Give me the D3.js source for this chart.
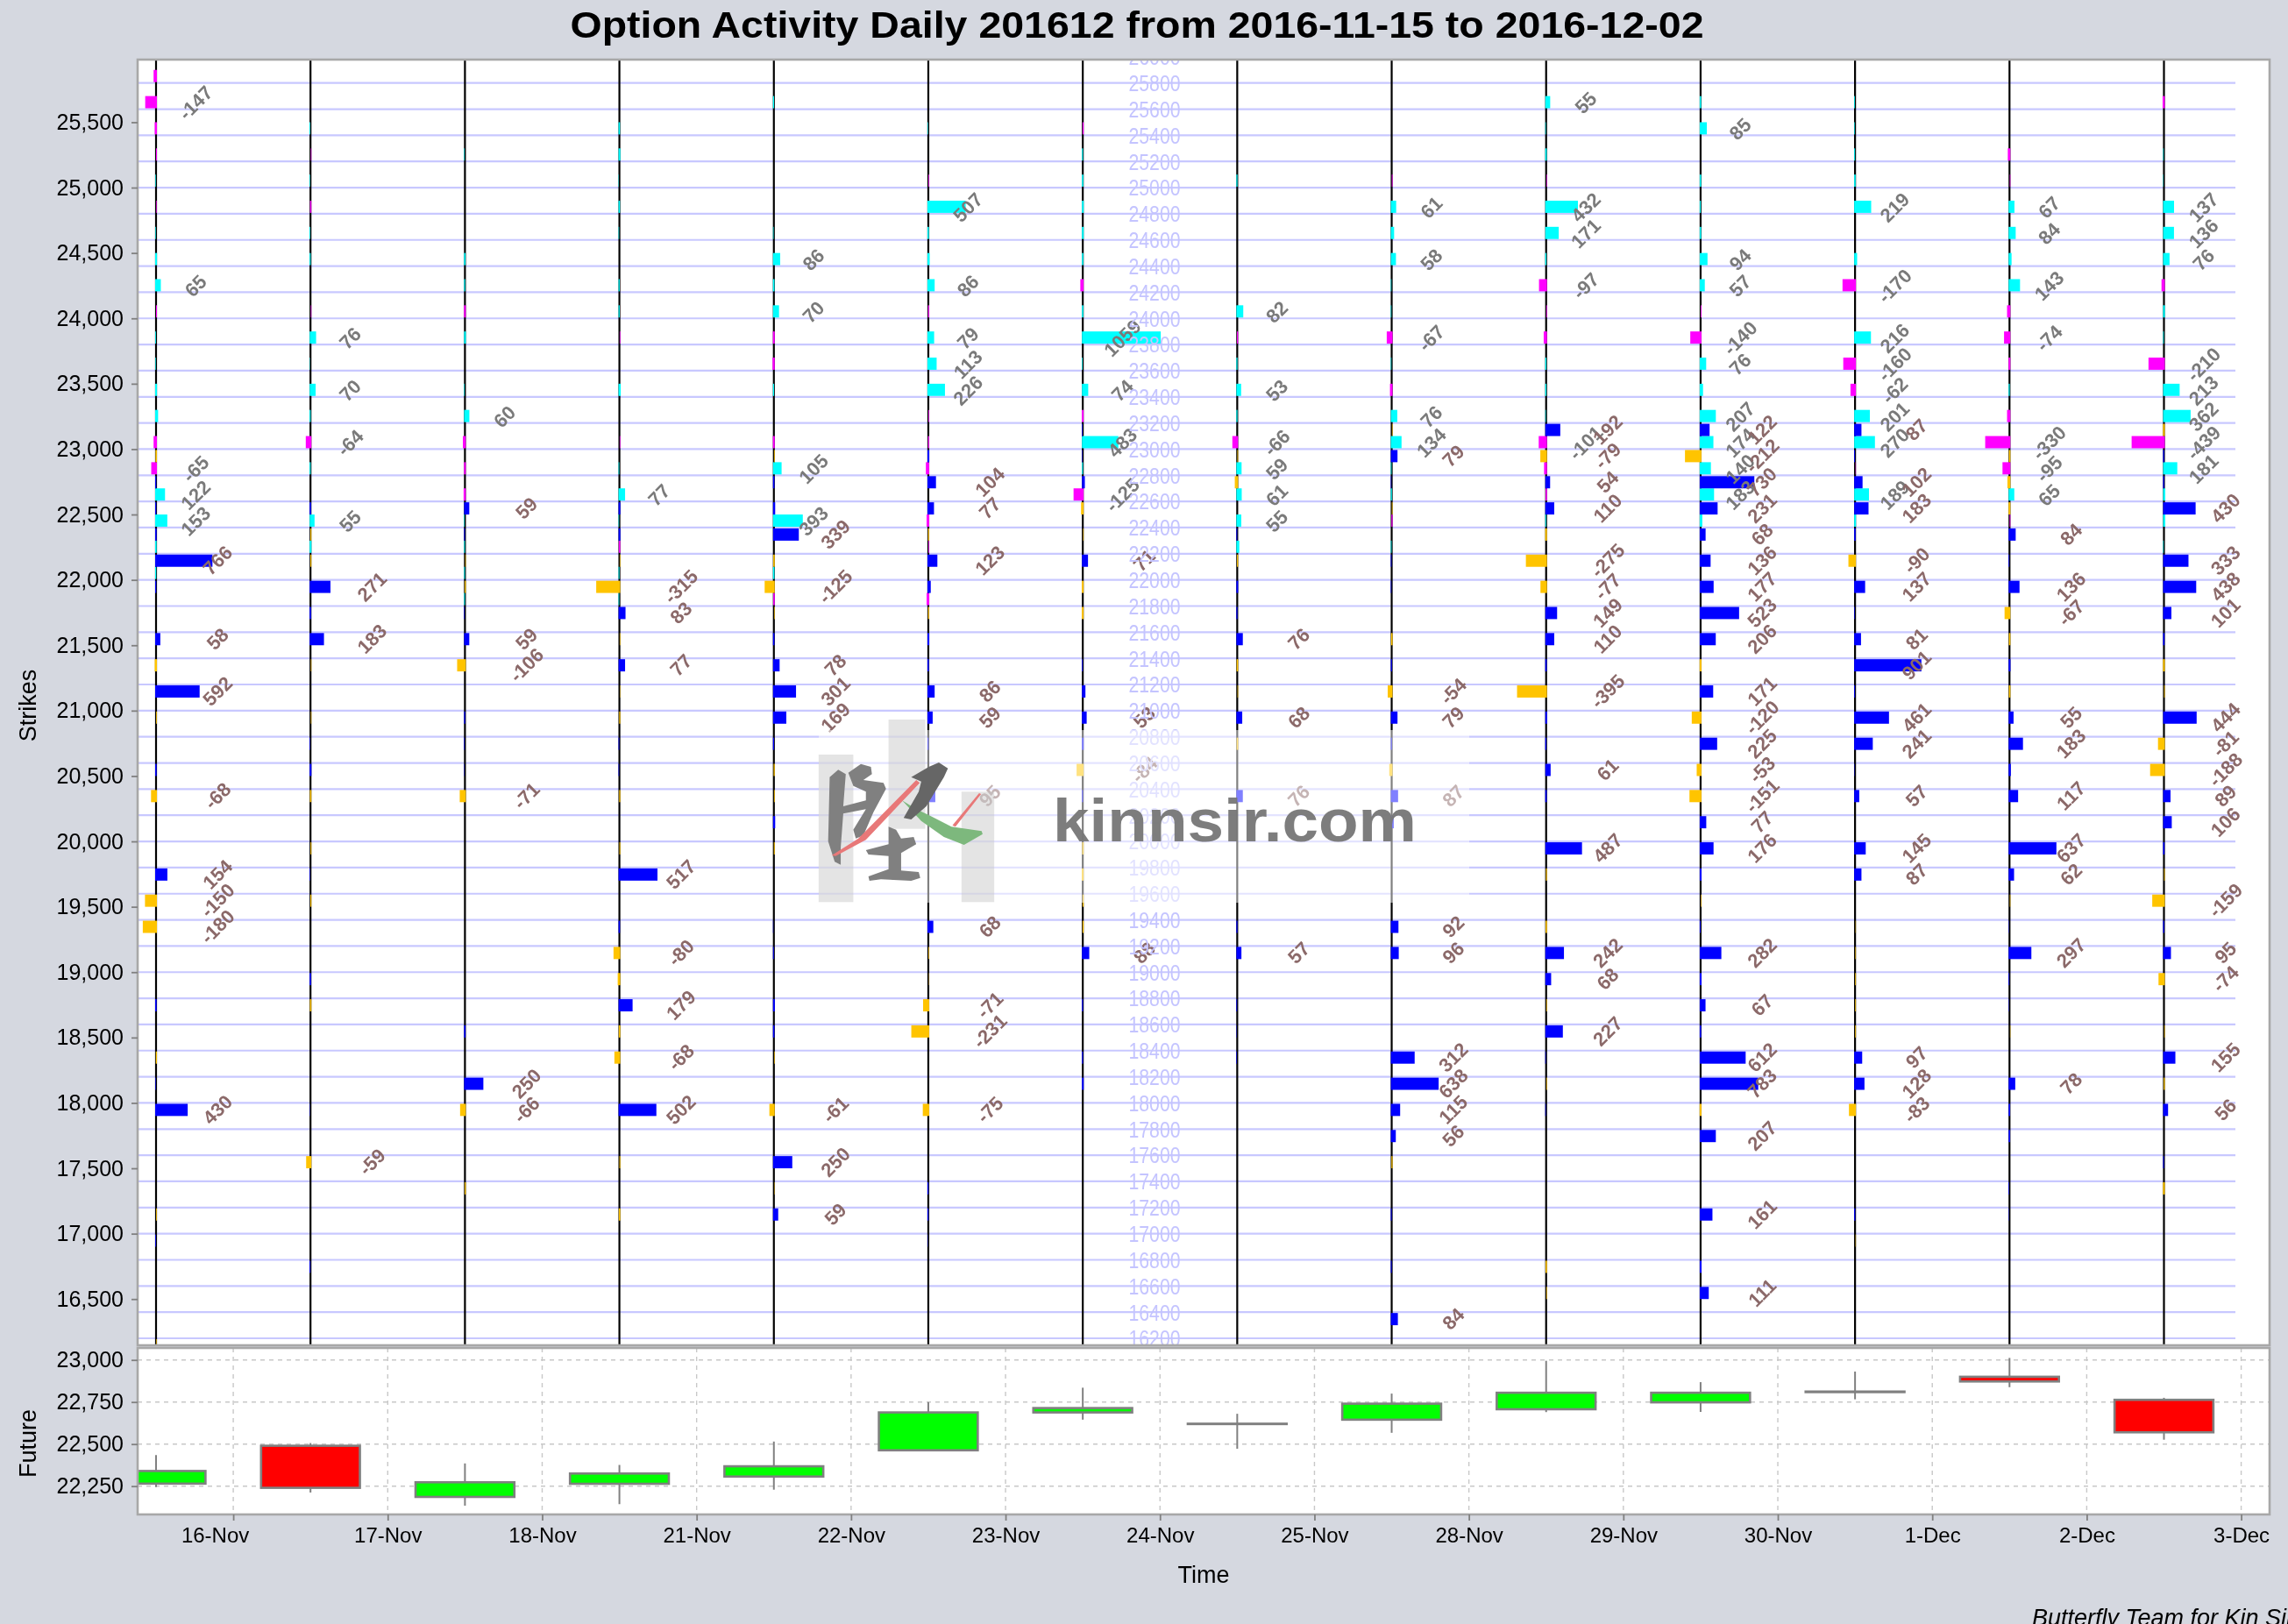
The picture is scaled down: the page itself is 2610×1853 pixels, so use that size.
<!DOCTYPE html>
<html><head><meta charset="utf-8">
<script src="https://cdn.jsdelivr.net/npm/d3@7"></script>
<style>
html,body{margin:0;padding:0;background:#d5d8e0;overflow:hidden}
svg{display:block;filter:blur(0.45px)}
text{font-family:"Liberation Sans",Arial,sans-serif}
</style></head><body><div id="c"></div>
<script>
const tickLabels=['16-Nov','17-Nov','18-Nov','21-Nov','22-Nov','23-Nov','24-Nov','25-Nov','28-Nov','29-Nov','30-Nov','1-Dec','2-Dec','3-Dec'];
const strikeLines=[26000,25800,25600,25400,25200,25000,24800,24600,24400,24200,24000,23800,23600,23400,23200,23000,22800,22600,22400,22200,22000,21800,21600,21400,21200,21000,20800,20600,20400,20200,20000,19800,19600,19400,19200,19000,18800,18600,18400,18200,18000,17800,17600,17400,17200,17000,16800,16600,16400,16200];
const strikeTicks=[25500,25000,24500,24000,23500,23000,22500,22000,21500,21000,20500,20000,19500,19000,18500,18000,17500,17000,16500];
const futureTicks=[22250,22500,22750,23000];

// [strike, volume] per trading day: bar above the strike line
const puts=[
[[25800,-45],[25600,-147],[25400,-30],[25200,-12],[25000,8],[24800,-8],[24600,8],[24400,25],[24200,65],[24000,-12],[23800,10],[23600,8],[23400,25],[23200,40],[23000,-45],[22800,-65],[22600,122],[22400,153],[22200,20],[22000,15]],
[[25400,10],[25200,-8],[25000,8],[24800,-18],[24600,10],[24400,15],[24000,-8],[23800,76],[23600,5],[23400,70],[23200,15],[23000,-64],[22800,15],[22400,55],[22200,25]],
[[25200,8],[24400,20],[24200,15],[24000,-25],[23800,25],[23400,8],[23200,60],[23000,-40],[22800,-25],[22600,-30],[22400,8],[22200,12],[22000,12],[21800,12]],
[[25400,20],[25200,25],[25000,5],[24800,20],[24600,8],[24200,15],[24000,15],[23800,-8],[23400,30],[23000,-8],[22800,10],[22600,77],[22400,8],[22200,-20],[22000,12],[21800,10]],
[[25600,15],[24600,8],[24400,86],[24200,20],[24000,70],[23800,-25],[23600,-30],[23400,15],[23000,-25],[22800,105],[22400,393],[22000,20],[21800,-20]],
[[25400,8],[25000,-10],[24800,507],[24600,20],[24400,30],[24200,86],[24000,-15],[23800,79],[23600,113],[23400,226],[23200,-10],[23000,-15],[22800,-45],[22400,-35],[22200,-10],[21800,-35]],
[[25400,-15],[25200,15],[25000,20],[24800,25],[24600,25],[24400,20],[24200,-45],[24000,20],[23800,1059],[23600,10],[23400,74],[23200,-25],[23000,483],[22800,15],[22600,-125]],
[[25000,15],[24000,82],[23800,-15],[23600,15],[23400,53],[23200,15],[23000,-66],[22800,59],[22600,61],[22400,55],[22200,40]],
[[25000,-10],[24800,61],[24600,45],[24400,58],[24200,8],[24000,8],[23800,-67],[23600,8],[23400,-35],[23200,76],[23000,134],[22800,10],[22600,15],[22400,-15],[22200,10]],
[[25600,55],[25400,8],[25200,20],[25000,-8],[24800,432],[24600,171],[24400,15],[24200,-97],[24000,-10],[23800,-45],[23600,15],[23400,15],[23200,8],[23000,-101],[22800,-40],[22600,-20],[22400,12]],
[[25600,20],[25400,85],[25000,20],[24800,15],[24600,20],[24400,94],[24200,57],[24000,-10],[23800,-140],[23600,76],[23400,45],[23200,207],[23000,174],[22800,140],[22600,183],[22400,35]],
[[25600,10],[25400,8],[25200,12],[25000,20],[24800,219],[24400,40],[24200,-170],[23800,216],[23600,-160],[23400,-62],[23200,201],[23000,270],[22800,-5],[22600,189],[22400,25]],
[[25200,-35],[25000,-8],[24800,67],[24600,84],[24400,40],[24200,143],[24000,-45],[23800,-74],[23600,-25],[23400,15],[23200,-45],[23000,-330],[22800,-95],[22600,65],[22400,-10]],
[[25600,-30],[25200,8],[25000,5],[24800,137],[24600,136],[24400,76],[24200,-45],[24000,25],[23800,10],[23600,-210],[23400,213],[23200,362],[23000,-439],[22800,181],[22600,30],[22400,30],[22200,8]]
];
// [strike, volume] per trading day: bar below the strike line
const calls=[
[[23000,-20],[22800,15],[22600,15],[22400,20],[22200,766],[22000,15],[21600,58],[21400,-30],[21200,592],[21000,-10],[20600,20],[20400,-68],[19800,154],[19600,-150],[19400,-180],[18800,20],[18400,-15],[18200,8],[18000,430],[17200,-10],[17000,10],[16200,-8]],
[[22600,20],[22400,-15],[22200,-15],[22000,271],[21800,20],[21600,183],[21400,-8],[21000,-8],[20800,8],[20600,25],[20400,-20],[20000,-12],[19800,8],[19600,-15],[19000,20],[18800,-20],[18000,5],[17600,-59],[16800,12]],
[[22600,59],[22400,12],[22200,-8],[22000,-15],[21800,8],[21600,59],[21400,-106],[21000,15],[20800,8],[20600,5],[20400,-71],[18600,20],[18200,250],[18000,-66],[17400,-15]],
[[22600,25],[22400,25],[22200,-8],[22000,-315],[21800,83],[21600,-8],[21400,77],[21200,-5],[21000,-15],[20800,10],[20600,8],[20400,-15],[20000,-12],[19800,517],[19400,20],[19200,-80],[19000,-35],[18800,179],[18600,-20],[18400,-68],[18000,502],[17600,-12],[17200,-20]],
[[23000,-10],[22800,20],[22600,30],[22400,339],[22200,-20],[22000,-125],[21800,-8],[21600,20],[21400,78],[21200,301],[21000,169],[20800,15],[20600,-15],[20400,-10],[20200,30],[20000,-12],[19400,5],[19200,12],[18800,25],[18600,20],[18400,-8],[18000,-61],[17600,250],[17400,-5],[17200,59]],
[[23000,25],[22800,104],[22600,77],[22400,-15],[22200,123],[22000,45],[21800,-15],[21600,25],[21400,20],[21200,86],[21000,59],[20800,15],[20400,95],[19400,68],[19200,-10],[19000,-5],[18800,-71],[18600,-231],[18000,-75],[17400,15],[17200,15],[17000,5]],
[[23200,10],[23000,8],[22800,40],[22600,-35],[22400,-8],[22200,71],[22000,-25],[21800,-25],[21400,12],[21200,48],[21000,53],[20800,25],[20600,-84],[20400,15],[20000,-20],[19800,-25],[19600,-15],[19400,-15],[19200,88],[18800,15],[18400,15],[18200,25]],
[[23000,-10],[22800,-45],[22400,12],[22200,-15],[22000,25],[21800,15],[21600,76],[21400,-20],[21200,-8],[21000,68],[20800,-20],[20400,76],[19400,15],[19200,57],[18800,10],[18600,5],[18400,8]],
[[23200,-8],[23000,79],[22800,8],[22600,-10],[22200,10],[22000,8],[21600,-20],[21400,15],[21200,-54],[21000,79],[20800,15],[20600,-45],[20400,87],[20200,40],[19400,92],[19200,96],[18400,312],[18200,638],[18000,115],[17800,56],[17600,-15],[17200,12],[16800,12],[16400,84]],
[[23200,192],[23000,-79],[22800,54],[22600,110],[22400,-25],[22200,-275],[22000,-77],[21800,149],[21600,110],[21400,20],[21200,-395],[21000,25],[20800,15],[20600,61],[20400,20],[20000,487],[19800,-15],[19400,-20],[19200,242],[19000,68],[18800,-10],[18600,227],[18400,8],[18200,-10],[18000,8],[16800,-20],[16600,-10]],
[[23200,122],[23000,-212],[22800,730],[22600,231],[22400,68],[22200,136],[22000,177],[21800,523],[21600,206],[21400,-25],[21200,171],[21000,-120],[20800,225],[20600,-53],[20400,-151],[20200,77],[20000,176],[19800,25],[19600,-8],[19400,12],[19200,282],[19000,25],[18800,67],[18600,20],[18400,612],[18200,783],[18000,-25],[17800,207],[17200,161],[16800,25],[16600,111]],
[[23200,87],[23000,12],[22800,102],[22600,183],[22400,20],[22200,-90],[22000,137],[21800,8],[21600,81],[21400,901],[21200,12],[21000,461],[20800,241],[20600,5],[20400,57],[20000,145],[19800,87],[19400,-5],[19200,-8],[19000,-10],[18800,-10],[18600,-10],[18400,97],[18200,128],[18000,-83],[17200,15],[17000,-5]],
[[23000,-20],[22800,-40],[22600,-25],[22400,84],[22200,10],[22000,136],[21800,-67],[21600,-20],[21400,25],[21200,-20],[21000,55],[20800,183],[20600,30],[20400,117],[20000,637],[19800,62],[19600,-8],[19400,5],[19200,297],[19000,10],[18800,5],[18600,-5],[18200,78],[18000,20],[17800,20],[17400,8],[17200,5]],
[[23200,-25],[23000,15],[22800,15],[22600,430],[22200,333],[22000,438],[21800,101],[21600,20],[21400,-25],[21200,-10],[21000,444],[20800,-81],[20600,-188],[20400,89],[20200,106],[20000,20],[19800,-10],[19600,-159],[19400,15],[19200,95],[19000,-74],[18600,-8],[18400,155],[18200,-15],[18000,56],[17600,12],[17400,-25]]
];
// daily future candles
const opens =[22265,22490,22186,22264,22307,22463,22688,22619,22645,22707,22748,22809,22900,22763];
const closes=[22340,22240,22273,22325,22368,22688,22714,22621,22740,22805,22805,22812,22872,22570];
const highs =[22435,22506,22385,22376,22515,22749,22835,22680,22800,22995,22868,22931,23012,22775];
const lows  =[22245,22212,22134,22143,22229,22463,22645,22472,22567,22690,22691,22766,22838,22526];

const W=2610,H=1853,L=157,R=2589,T1=68,B1=1535,T2=1538,B2=1728;
const svg=d3.select('#c').append('svg').attr('width',W).attr('height',H);
svg.append('rect').attr('width',W).attr('height',H).attr('fill','#d5d8e0');

const x=d3.scaleLinear().domain([0,13]).range([178,2468.5]);
const yS=d3.scaleLinear().domain([16200,25800]).range([1527,94.7]);
const yF=d3.scaleLinear().domain([22250,23000]).range([1695.7,1551.7]);
const len=d3.scaleLinear().domain([0,1000]).range([0,84]);

const defs=svg.append('defs');
defs.append('clipPath').attr('id','cp1').append('rect').attr('x',L).attr('y',T1).attr('width',R-L).attr('height',B1-T1);
defs.append('clipPath').attr('id','cp2').append('rect').attr('x',L).attr('y',T2).attr('width',R-L).attr('height',B2-T2);

svg.append('rect').attr('x',L).attr('y',T1).attr('width',R-L).attr('height',B1-T1).attr('fill','#fff');
svg.append('rect').attr('x',L).attr('y',T2).attr('width',R-L).attr('height',B2-T2).attr('fill','#fff');

// upper plot
const g1=svg.append('g').attr('clip-path','url(#cp1)');
g1.selectAll('.gl').data(strikeLines).join('line').attr('x1',L).attr('x2',2550)
 .attr('y1',d=>yS(d)).attr('y2',d=>yS(d)).attr('stroke','#c8c8ff').attr('stroke-width',2.2);
g1.selectAll('.dl').data(d3.range(14)).join('line').attr('x1',d=>x(d)).attr('x2',d=>x(d))
 .attr('y1',T1).attr('y2',B1).attr('stroke','#000').attr('stroke-width',2.2);

const series=[{rows:puts,up:true,pos:'#00ffff',neg:'#ff00ff',txt:'#7a7a7a',off:45},
              {rows:calls,up:false,pos:'#0000ff',neg:'#ffc400',txt:'#8b6969',off:70}];
series.forEach(s=>{
  const recs=s.rows.flatMap((r,i)=>r.map(([k,v])=>({i,k,v})));
  const w=d=>len(Math.abs(d.v))+(Math.abs(d.v)>=50?1:0);
  g1.append('g').selectAll('rect').data(recs).join('rect')
    .attr('x',d=>d.v>=0?x(d.i)-1:x(d.i)+1-w(d))
    .attr('width',w)
    .attr('y',d=>s.up?yS(d.k+100):yS(d.k)+1)
    .attr('height',d=>yS(d.k)-yS(d.k+100)-1)
    .attr('fill',d=>d.v>=0?s.pos:s.neg);
});
series.forEach(s=>{
  const recs=s.rows.flatMap((r,i)=>r.map(([k,v])=>({i,k,v}))).filter(d=>Math.abs(d.v)>=50);
  g1.append('g').selectAll('text').data(recs).join('text')
    .attr('transform',d=>`translate(${x(d.i)+s.off},${(s.up?yS(d.k+50):yS(d.k-50))}) rotate(-45)`)
    .attr('text-anchor','middle').attr('dy','0.36em')
    .attr('font-size',22).attr('font-weight','bold').attr('fill',s.txt)
    .text(d=>d.v);
});
g1.selectAll('.sl').data(strikeLines).join('text')
  .attr('x',1317).attr('y',d=>yS(d)).attr('dy','0.36em').attr('text-anchor','middle')
  .attr('font-size',26).attr('textLength',59).attr('lengthAdjust','spacingAndGlyphs')
  .attr('fill','#c4c4ff').text(d=>d);

// watermark
const wm=g1.append('g');
wm.append('rect').attr('x',934).attr('y',833).attr('width',742).attr('height',197).attr('fill','#fff').attr('opacity',.5);
const lg=wm.append('g').attr('transform','translate(850,780) scale(0.574,0.3333)');
[[146,243,69,505],[285,123,73,374],[430,370,65,378]].forEach(([a,b,c,d])=>lg.append('rect').attr('x',a).attr('y',b).attr('width',c).attr('height',d).attr('fill','#c4c4c4').attr('opacity',.45));
const gray='#808080';
[
 ['M168,320 L185,295 L200,310 L195,420 L240,400 L240,370 L215,350 L205,305 L230,275 L250,285 L252,310 L235,330 L275,340 L280,360 L255,440 L235,520 L220,530 L215,500 L240,430 L195,445 L190,560 L190,620 L178,610 L165,540 Z',gray],
 ['M285,490 L300,500 L310,530 L335,525 L340,550 L310,580 L310,640 L345,645 L348,665 L330,675 L270,670 L247,675 L245,660 L285,635 L285,590 L245,585 L240,570 L285,550 Z',gray],
 ['M312,400 L340,430 L365,450 L410,490 L470,505 L472,515 L435,552 L395,525 L350,470 Z','#7db87d'],
 ['M172,588 L225,530 L340,330 L347,340 L240,535 L180,590 Z','#e87878'],
 ['M412,485 L465,375 L469,378 L418,490 Z','#e87878'],
 ['M330,320 L365,285 L385,270 L403,290 L395,320 L360,420 L330,465 L315,460 L345,370 L350,335 Z','#666']
].forEach(([d,f])=>lg.append('path').attr('d',d).attr('fill',f));
wm.append('text').attr('x',1201).attr('y',960).attr('font-size',69).attr('font-weight','bold')
  .attr('textLength',415).attr('lengthAdjust','spacingAndGlyphs').attr('fill','#787878').attr('opacity',.96).text('kinnsir.com');

// lower plot
const g2=svg.append('g').attr('clip-path','url(#cp2)');
const tickPos=d3.range(14).map(d=>d+0.5);
g2.selectAll('.hg').data(futureTicks).join('line').attr('x1',L).attr('x2',R).attr('y1',d=>yF(d)).attr('y2',d=>yF(d))
  .attr('stroke','#c8c8c8').attr('stroke-width',1.4).attr('stroke-dasharray','5 5');
g2.selectAll('.vg').data(tickPos).join('line').attr('y1',T2).attr('y2',B2).attr('x1',d=>x(d)).attr('x2',d=>x(d))
  .attr('stroke','#c8c8c8').attr('stroke-width',1.4).attr('stroke-dasharray','5 5');
const idx=d3.range(14), bw=(x(1)-x(0))*0.64;
g2.selectAll('.wick').data(idx).join('line').attr('x1',d=>x(d)).attr('x2',d=>x(d))
  .attr('y1',d=>yF(highs[d])).attr('y2',d=>yF(lows[d])).attr('stroke','#808080').attr('stroke-width',2);
g2.selectAll('.body').data(idx).join('rect').attr('x',d=>x(d)-bw/2).attr('width',bw)
  .attr('y',d=>yF(Math.max(opens[d],closes[d]))).attr('height',d=>Math.abs(yF(opens[d])-yF(closes[d])))
  .attr('fill',d=>closes[d]>opens[d]?'#00ff00':'#ff0000').attr('stroke','#808080').attr('stroke-width',2.6);

// frames & axes
[[T1,B1],[T2,B2]].forEach(([a,b])=>svg.append('rect').attr('x',L).attr('y',a).attr('width',R-L).attr('height',b-a)
  .attr('fill','none').attr('stroke','#a8a8a8').attr('stroke-width',2.6));
function style(g){g.select('.domain').remove();g.selectAll('line').attr('stroke','#808080').attr('stroke-width',1.8);
  g.selectAll('text').attr('font-size',25).attr('fill','#000');}
svg.append('g').attr('transform',`translate(${L},0)`).call(d3.axisLeft(yS).tickValues(strikeTicks).tickFormat(d3.format(',')).tickSize(7).tickPadding(9)).call(style);
svg.append('g').attr('transform',`translate(${L},0)`).call(d3.axisLeft(yF).tickValues(futureTicks).tickFormat(d3.format(',')).tickSize(7).tickPadding(9)).call(style);
const xAxisG=svg.append('g').attr('transform',`translate(0,${B2})`).call(d3.axisBottom(x).tickValues(tickPos).tickFormat((d,i)=>tickLabels[i]).tickSize(7).tickPadding(8)).call(style);
xAxisG.selectAll('text').attr('font-size',24).filter((d,i)=>i===0).attr('dx',-21);

svg.append('text').attr('x',1297).attr('y',43).attr('text-anchor','middle').attr('font-size',43).attr('font-weight','bold').attr('textLength',1293).attr('lengthAdjust','spacingAndGlyphs').text('Option Activity Daily 201612 from 2016-11-15 to 2016-12-02');
svg.append('text').attr('transform','translate(41,805) rotate(-90)').attr('text-anchor','middle').attr('font-size',27).text('Strikes');
svg.append('text').attr('transform','translate(41,1647) rotate(-90)').attr('text-anchor','middle').attr('font-size',27).text('Future');
svg.append('text').attr('x',1373).attr('y',1806).attr('text-anchor','middle').attr('font-size',27).text('Time');
svg.append('text').attr('x',2318).attr('y',1855).attr('font-size',27).attr('font-style','italic').text('Butterfly Team for Kin Sir');
</script></body></html>
